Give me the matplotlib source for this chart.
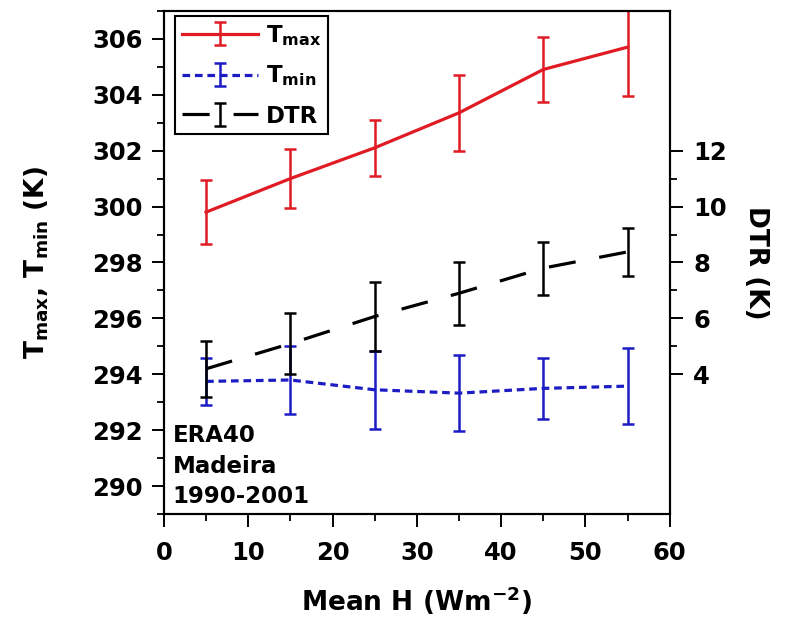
import numpy as np
import matplotlib
matplotlib.use('Agg')
import matplotlib.pyplot as plt
from matplotlib.ticker import FixedLocator, MultipleLocator

plt.rcParams['font.family'] = 'DejaVu Sans'
plt.rcParams['font.weight'] = 'bold'
plt.rcParams['mathtext.fontset'] = 'dejavusans'
plt.rcParams['mathtext.default'] = 'bf'

# Mittelwerte je Klasse des sensiblen Waermestroms
mean_h = [5, 15, 25, 35, 45, 55]
tmax = [299.8, 301.0, 302.1, 303.35, 304.9, 305.7]
tmax_err = [1.15, 1.05, 1.0, 1.35, 1.15, 1.75]
tmin = [293.75, 293.8, 293.45, 293.33, 293.5, 293.58]
tmin_err = [0.85, 1.2, 1.4, 1.35, 1.1, 1.35]
dtr = [4.2, 5.1, 6.07, 6.9, 7.8, 8.38]
dtr_err = [1.0, 1.1, 1.25, 1.12, 0.95, 0.85]

RED, BLUE = '#e01b24', '#1c1cc4'
FS_TICK, FS_LAB, FS_LEG = 17.5, 19, 16.5

fig = plt.figure(figsize=(7.88, 6.31), dpi=100)
ax = fig.add_axes([0.208, 0.185, 0.642, 0.798])
ax2 = ax.twinx()

h1 = ax.errorbar(mean_h, tmax, yerr=tmax_err, color=RED, lw=2.3, elinewidth=1.8,
                 capsize=4.5, capthick=1.8, label='T$_{max}$')
h2 = ax.errorbar(mean_h, tmin, yerr=tmin_err, color=BLUE, lw=2.3, ls=(0, (2.4, 1.5)),
                 elinewidth=1.8, capsize=4.5, capthick=1.8, label='T$_{min}$')
h3 = ax2.errorbar(mean_h, dtr, yerr=dtr_err, color='black', lw=2.3, ls=(0, (8.5, 7.5)),
                  elinewidth=1.8, capsize=4.5, capthick=1.8, label='DTR')

ax.set_xlim(0, 60)
ax.set_ylim(289, 307)
ax2.set_ylim(-1, 17)

ax.xaxis.set_major_locator(MultipleLocator(10))
ax.xaxis.set_minor_locator(MultipleLocator(5))
ax.yaxis.set_major_locator(MultipleLocator(2))
ax.yaxis.set_minor_locator(MultipleLocator(1))
ax2.yaxis.set_major_locator(FixedLocator([4, 6, 8, 10, 12]))
ax2.yaxis.set_minor_locator(FixedLocator([5, 7, 9, 11]))

for a in (ax, ax2):
    a.tick_params(which='major', direction='out', length=9, width=1.4, labelsize=FS_TICK)
    a.tick_params(which='minor', direction='out', length=5, width=1.3)
    for s in a.spines.values():
        s.set_linewidth(1.5)
ax.tick_params(axis='x', pad=10)
ax.tick_params(axis='y', pad=6)
ax2.tick_params(axis='y', pad=8)

ax.set_xlabel('Mean H (Wm$^{-2}$)', fontsize=FS_LAB, fontweight='bold', labelpad=14)
ax.set_ylabel('T$_{max}$, T$_{min}$ (K)', fontsize=FS_LAB, fontweight='bold', labelpad=30)
ax2.set_ylabel('DTR (K)', fontsize=FS_LAB, fontweight='bold', rotation=270, labelpad=30)

ax.text(0.017, 0.012, 'ERA40\nMadeira\n1990-2001', transform=ax.transAxes, fontsize=FS_LEG,
        fontweight='bold', ha='left', va='bottom', linespacing=1.42)

leg = ax2.legend(handles=[h1, h2, h3], loc='upper left', bbox_to_anchor=(0.022, 0.99),
                 borderaxespad=0, fontsize=FS_LEG, handlelength=3.3, handletextpad=0.35,
                 labelspacing=0.7, fancybox=False, edgecolor='black', framealpha=1,
                 borderpad=0.3)
leg.get_frame().set_linewidth(1.5)

fig.savefig('out.png', dpi=100)
